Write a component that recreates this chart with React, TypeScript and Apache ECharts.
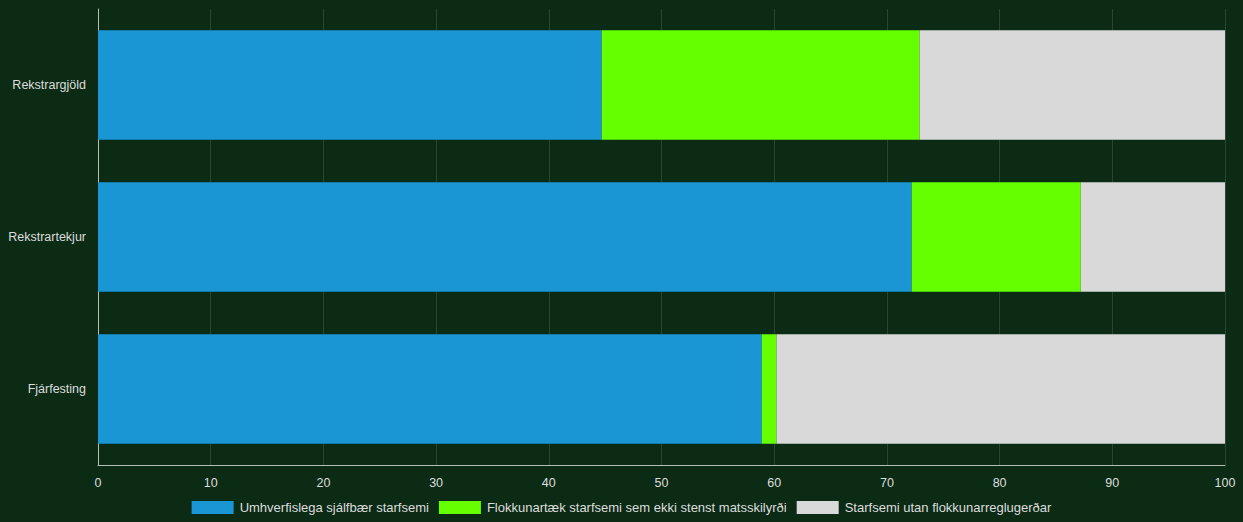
import React, { useEffect, useRef } from "react";
import * as echarts from "echarts";

const categories = ["Rekstrargjöld", "Rekstrartekjur", "Fjárfesting"];
const seriesNames = [
  "Umhverfislega sjálfbær starfsemi",
  "Flokkunartæk starfsemi sem ekki stenst matsskilyrði",
  "Starfsemi utan flokkunarreglugerðar",
];
const sustainable = [44.7, 72.2, 58.9];
const eligibleNotAligned = [28.2, 15.0, 1.3];
const notEligible = [27.1, 12.8, 39.8];
const colors = ["#1a96d4", "#66ff00", "#d9d9d9"];
const xTicks = { min: 0, max: 100, interval: 10 };

export default function App() {
  const ref = useRef<HTMLDivElement>(null);
  useEffect(() => {
    if (!ref.current) return;
    const chart = echarts.init(ref.current, null, { renderer: "svg" });
    const font = "'Liberation Sans', Arial, Helvetica, sans-serif";
    const dataSets = [sustainable, eligibleNotAligned, notEligible];
    chart.setOption({
      animation: false,
      backgroundColor: "#0b2b15",
      textStyle: { fontFamily: font },
      grid: { left: 98, right: 18, top: 9, bottom: 57, containLabel: false },
      legend: {
        bottom: 3,
        left: "center",
        itemWidth: 42,
        itemHeight: 13,
        itemGap: 10,
        icon: "rect",
        textStyle: { color: "#dddddd", fontSize: 13, fontFamily: font, padding: [0, 0, 0, 1] },
        data: seriesNames,
      },
      xAxis: {
        type: "value",
        min: xTicks.min,
        max: xTicks.max,
        interval: xTicks.interval,
        axisLine: { show: true, lineStyle: { color: "#b8bdb8", width: 1 } },
        axisTick: { show: false },
        axisLabel: { color: "#dddddd", fontSize: 12.5, margin: 11, fontFamily: font },
        splitLine: { show: true, lineStyle: { color: "rgba(255,255,255,0.13)", width: 1 } },
      },
      yAxis: {
        type: "category",
        inverse: true,
        data: categories,
        axisLine: { show: true, lineStyle: { color: "#b8bdb8", width: 1 } },
        axisTick: { show: false },
        axisLabel: { color: "#dddddd", fontSize: 12.5, margin: 12, fontFamily: font },
        splitLine: { show: false },
      },
      series: seriesNames.map((name, i) => ({
        name,
        type: "bar",
        stack: "total",
        barWidth: "72%",
        data: dataSets[i],
        itemStyle: { color: colors[i] },
      })),
    });
    return () => chart.dispose();
  }, []);
  return (
    <div
      ref={ref}
      style={{ position: "absolute", left: 0, top: 0, width: 1243, height: 522 }}
    />
  );
}
